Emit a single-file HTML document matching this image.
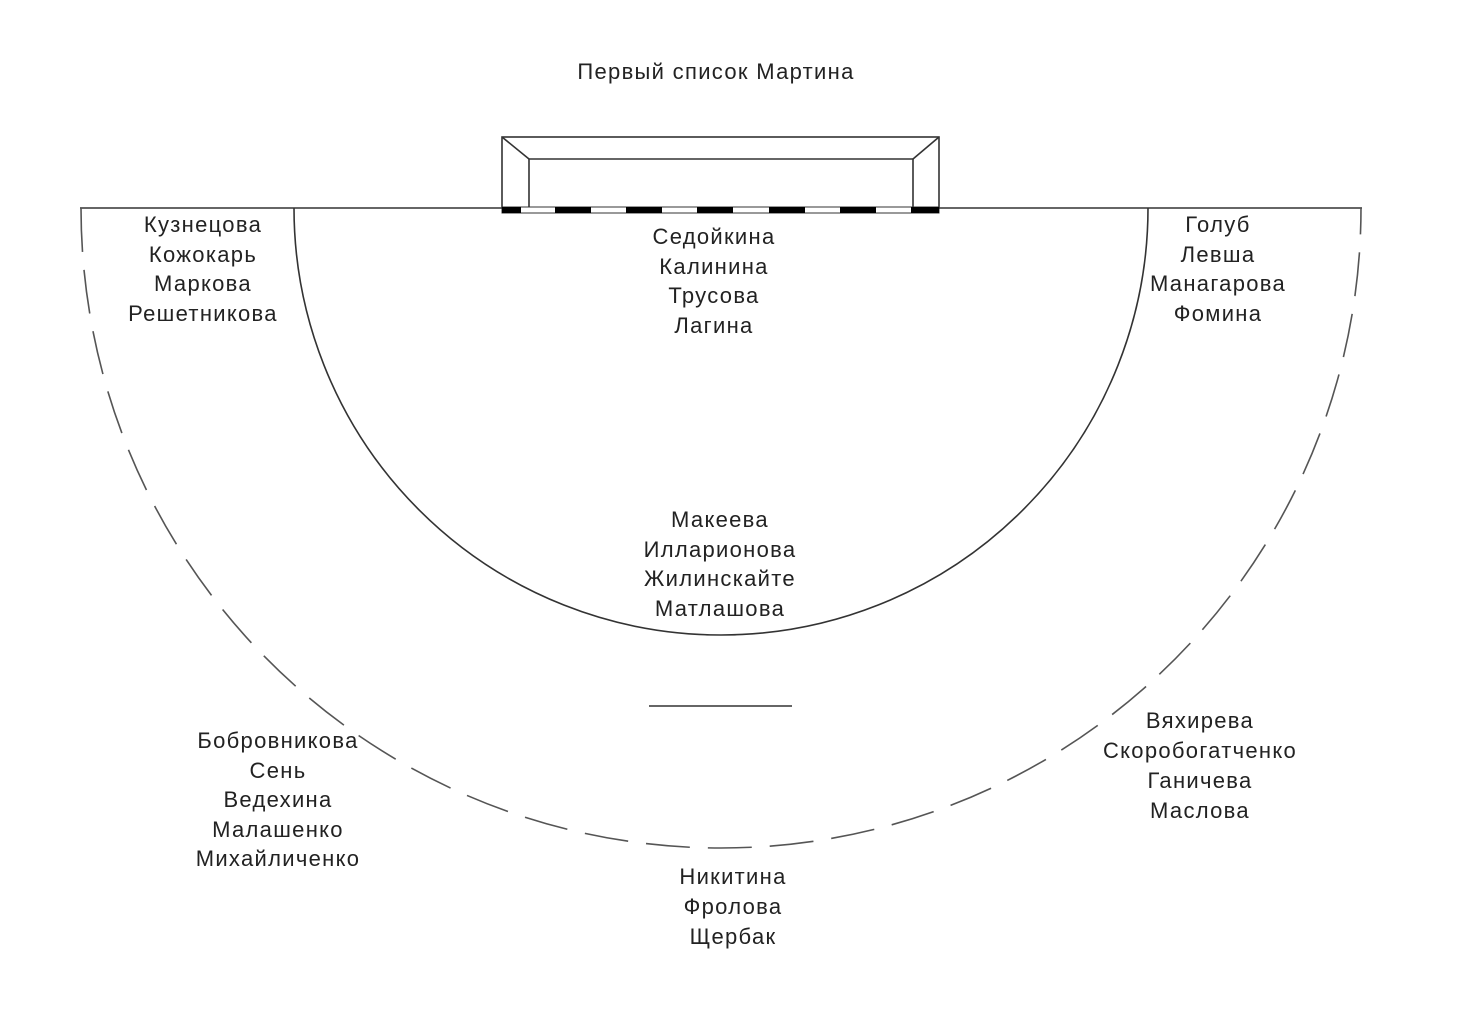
<!DOCTYPE html>
<html><head><meta charset="utf-8"><style>
html,body{margin:0;padding:0;background:#fff;}
svg{display:block;}
text{font-family:"Liberation Sans",sans-serif;font-size:22px;letter-spacing:1.3px;fill:#222;text-anchor:middle;}
</style></head><body>
<svg width="1460" height="1033" viewBox="0 0 1460 1033" xmlns="http://www.w3.org/2000/svg">
<text x="716" y="79">Первый список Мартина</text>
<g stroke="#333" stroke-width="1.6" fill="none">
<line x1="80" y1="208" x2="1362" y2="208"/>
<rect x="502" y="137" width="437" height="71"/>
<polyline points="529,208 529,159 913,159 913,208"/>
<line x1="502" y1="137" x2="529" y2="159"/>
<line x1="939" y1="137" x2="913" y2="159"/>
<path d="M294 208 A427 427 0 0 0 1148 208"/>
<path d="M81 208 A640 640 0 0 0 1361 208" stroke="#555" stroke-dasharray="44 18"/>
<line x1="649" y1="706" x2="792" y2="706"/>
</g>
<rect x="502" y="207" width="437" height="6" fill="#fff" stroke="#333" stroke-width="1"/>
<g fill="#000">
<rect x="502" y="207" width="19" height="6"/>
<rect x="555" y="207" width="36" height="6"/>
<rect x="626" y="207" width="36" height="6"/>
<rect x="697" y="207" width="36" height="6"/>
<rect x="769" y="207" width="36" height="6"/>
<rect x="840" y="207" width="36" height="6"/>
<rect x="911" y="207" width="28" height="6"/>
</g>
<text x="203" y="232">Кузнецова</text><text x="203" y="262">Кожокарь</text><text x="203" y="291">Маркова</text><text x="203" y="321">Решетникова</text>
<text x="714" y="244">Седойкина</text><text x="714" y="274">Калинина</text><text x="714" y="303">Трусова</text><text x="714" y="333">Лагина</text>
<text x="1218" y="232">Голуб</text><text x="1218" y="262">Левша</text><text x="1218" y="291">Манагарова</text><text x="1218" y="321">Фомина</text>
<text x="720" y="527">Макеева</text><text x="720" y="557">Илларионова</text><text x="720" y="586">Жилинскайте</text><text x="720" y="616">Матлашова</text>
<text x="278" y="748">Бобровникова</text><text x="278" y="778">Сень</text><text x="278" y="807">Ведехина</text><text x="278" y="837">Малашенко</text><text x="278" y="866">Михайличенко</text>
<text x="1200" y="728">Вяхирева</text><text x="1200" y="758">Скоробогатченко</text><text x="1200" y="788">Ганичева</text><text x="1200" y="818">Маслова</text>
<text x="733" y="884">Никитина</text><text x="733" y="914">Фролова</text><text x="733" y="944">Щербак</text>
</svg>
</body></html>
